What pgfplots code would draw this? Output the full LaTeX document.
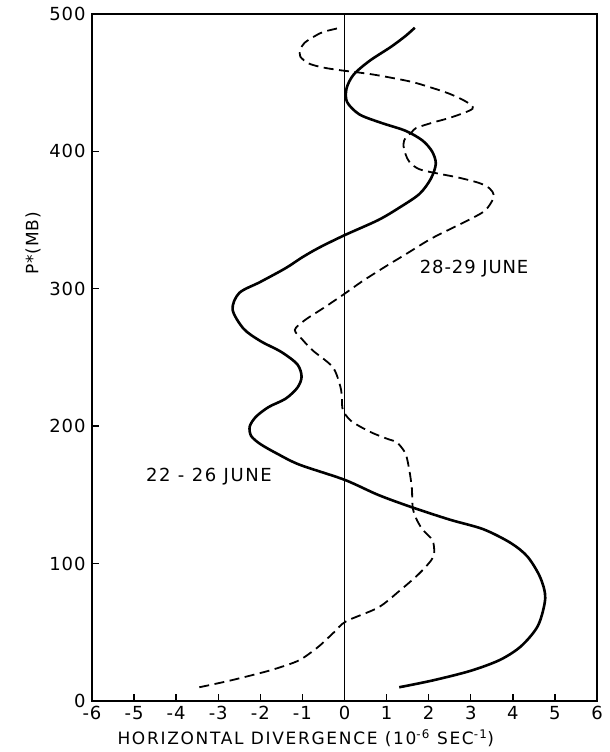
\documentclass[border=0pt]{standalone}
\usepackage{fontspec}
\setmainfont{DejaVu Sans}
\newfontfamily\spacedA[LetterSpace=10]{DejaVu Sans}
\newfontfamily\spacedB[LetterSpace=9]{DejaVu Sans}
\newfontfamily\spacedC[LetterSpace=5]{DejaVu Sans}
\usepackage{pgfplots}
\pgfplotsset{compat=1.18}
\begin{document}
\begin{tikzpicture}
\begin{axis}[name=ax, scale only axis, width=505pt, height=687pt,
  xmin=-6, xmax=6, ymin=0, ymax=500,
  xtick={-6,-5,...,6}, ytick={0,100,...,500},
  xtick pos=bottom, ytick pos=left,
  tick align=inside,
  major tick length=7pt,
  axis line style={line width=1.5pt},
  tick style={line width=1.4pt, black},
  tick label style={font=\spacedC\fontsize{18}{21}\selectfont},
  xticklabel style={yshift=-2pt},
  yticklabel style={xshift=-3pt},
  /pgf/number format/assume math mode=true,
  clip=false]
\addplot[black, line width=0.9pt] coordinates {(0,0) (0,500)};
% 22-26 June (solid)
\addplot[black, line width=2.6pt, smooth] coordinates {
(1.3,10) (2.1,15) (3.0,22) (3.7,30) (4.2,40) (4.6,55) (4.77,75) (4.65,90)
(4.35,105) (3.95,115) (3.3,125) (2.5,132) (1.6,141) (0.8,150) (0.0,161)
(-1.07,172) (-1.6,180) (-2.0,187) (-2.22,193) (-2.25,200) (-2.1,207)
(-1.8,214) (-1.4,220) (-1.12,228) (-1.02,236) (-1.12,245)
(-1.5,254) (-2.0,262) (-2.4,271) (-2.66,285) (-2.5,297) (-2.0,305)
(-1.4,315) (-1.0,323) (-0.6,330) (0.0,339) (0.8,350) (1.3,359) (1.78,369)
(2.05,380) (2.17,391) (2.08,400) (1.85,408) (1.45,415) (0.85,421) (0.35,427)
(0.06,436) (0.05,446) (0.22,456) (0.6,466) (1.1,476) (1.45,484) (1.67,490)};
% 28-29 June (dashed)
\addplot[black, line width=1.8pt, smooth, dash pattern=on 10pt off 5.5pt] coordinates {
(-3.45,10) (-2.7,15) (-1.8,22) (-1.2,28) (-0.95,32) (-0.6,40) (-0.25,50)
(0.04,58) (0.8,68) (1.3,80) (1.75,92) (2.05,102) (2.13,108) (2.09,117)
(1.85,125) (1.7,133) (1.62,141) (1.6,155) (1.54,168) (1.45,180) (1.25,188)
(1.0,191) (0.6,196) (0.15,204) (-0.04,212) (-0.06,220) (-0.1,229)
(-0.28,243) (-0.75,255) (-1.0,263) (-1.18,270) (-0.95,277) (-0.5,286)
(-0.04,295.5) (0.4,305) (0.91,315) (1.5,326) (2.09,337) (2.88,349) (3.3,356)
(3.47,362) (3.55,368) (3.45,373) (3.2,377) (2.7,381) (2.2,384) (1.78,387)
(1.55,392) (1.45,398) (1.4,405) (1.45,410) (1.6,414) (1.7,417) (2.1,421)
(2.56,425) (3.04,431) (2.9,436) (2.49,442) (2.0,447) (1.54,451) (0.67,456)
(-0.08,459) (-0.5,461) (-0.85,464) (-1.05,469) (-1.05,474) (-0.95,479)
(-0.7,484) (-0.5,487) (-0.1,490)};
\node[font=\spacedB\fontsize{18}{21}\selectfont] at (axis cs:-3.22,163) {22 - 26 JUNE};
\node[font=\spacedC\fontsize{18}{21}\selectfont] at (axis cs:3.08,315) {28-29 JUNE};
\node[font=\spacedC\fontsize{17}{20}\selectfont, rotate=90] at ([xshift=-59pt]axis cs:-6,333) {P*(MB)};
\node[font=\spacedA\fontsize{17}{20}\selectfont] at ([yshift=-37pt]axis cs:-0.92,0) {HORIZONTAL DIVERGENCE (10\textsuperscript{-6} SEC\textsuperscript{-1})};
\end{axis}
\pgfresetboundingbox
\path[use as bounding box] ([shift={(-92pt,-51pt)}]ax.south west) rectangle ([shift={(12pt,14pt)}]ax.north east);
\end{tikzpicture}
\end{document}
